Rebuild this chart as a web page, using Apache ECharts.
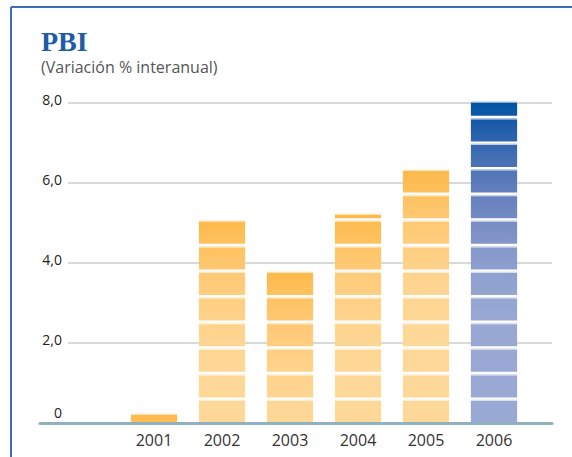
<!DOCTYPE html>
<html>
<head>
<meta charset="utf-8">
<script src="https://cdn.jsdelivr.net/npm/echarts@6/dist/echarts.min.js"></script>
<style>
  html, body { margin: 0; padding: 0; background: #fff; }
  #chart { width: 572px; height: 457px; }
</style>
</head>
<body>
<div id="chart"></div>
<script>
// datos
var years = ['2001', '2002', '2003', '2004', '2005', '2006'];
var pbi = [0.2, 5.05, 3.8, 5.2, 6.3, 8.0];
var yMin = 0, yMax = 8, yStep = 2;

// bloques de cada barra (en unidades del eje)
var BLOCK = 0.64;
var GAP = 0.09;

// escala de color según la distancia al tope de la barra
var orangeStops = [[0, '#fdb94c'], [0.5, '#fdc05a'], [1.0, '#fec66d'], [1.6, '#fecc7b'],
                   [2.2, '#fed187'], [3.0, '#fed592'], [4.0, '#fed898'], [10, '#ffd99b']];
var blueStops = [[0, '#0054a5'], [0.4, '#1359a8'], [0.8, '#2a62ad'], [1.45, '#4870b4'],
                 [2.1, '#5f7dbc'], [2.7, '#7088c2'], [3.35, '#8094c8'], [4.0, '#8b9dcd'],
                 [4.6, '#93a4d1'], [5.5, '#98a7d3'], [10, '#9caad5']];

function hex2rgb(h) {
    return [parseInt(h.substr(1, 2), 16), parseInt(h.substr(3, 2), 16), parseInt(h.substr(5, 2), 16)];
}
function colorAt(stops, d) {
    for (var i = 1; i < stops.length; i++) {
        if (d <= stops[i][0]) {
            var a = stops[i - 1], b = stops[i];
            var t = (d - a[0]) / (b[0] - a[0]);
            var ca = hex2rgb(a[1]), cb = hex2rgb(b[1]);
            return 'rgb(' + ca.map(function (v, k) { return Math.round(v + (cb[k] - v) * t); }).join(',') + ')';
        }
    }
    return stops[stops.length - 1][1];
}

var chart = echarts.init(document.getElementById('chart'), null, {renderer: 'svg'});

var option = {
    animation: false,
    backgroundColor: '#fff',
    title: {
        text: 'PBI',
        subtext: '(Variación % interanual)',
        left: 36,
        top: 22,
        itemGap: 4,
        textStyle: {
            fontFamily: 'Liberation Serif',
            fontWeight: 'bold',
            fontSize: 28,
            color: '#1d5ca7'
        },
        subtextStyle: {
            fontFamily: 'Open Sans',
            fontSize: 16,
            color: '#555'
        }
    },
    graphic: [
        // marco azul
        {type: 'line', shape: {x1: 11, y1: 7, x2: 572, y2: 7}, style: {stroke: '#3a70b3', lineWidth: 2}},
        {type: 'line', shape: {x1: 11, y1: 7, x2: 11, y2: 457}, style: {stroke: '#3a70b3', lineWidth: 2}}
    ],
    grid: [
        {left: 68, right: 20, top: 103, bottom: 34},
        {left: 120, right: 44, top: 103, bottom: 34},
        {left: 40, right: 20, top: 103, bottom: 34}
    ],
    xAxis: [
        {gridIndex: 0, type: 'value', show: false},
        {
            gridIndex: 1,
            type: 'category',
            data: years,
            axisLine: {show: false},
            axisTick: {show: false},
            axisLabel: {
                margin: 9,
                fontFamily: 'Open Sans',
                fontSize: 16,
                color: '#333'
            }
        },
        {
            gridIndex: 2,
            type: 'value',
            z: 10,
            axisLine: {show: true, onZero: false, lineStyle: {color: '#8fb0c1', width: 3}},
            axisTick: {show: false},
            axisLabel: {show: false},
            splitLine: {show: false}
        }
    ],
    yAxis: [
        {
            gridIndex: 0,
            type: 'value',
            min: yMin,
            max: yMax,
            interval: yStep,
            axisLine: {show: false},
            axisTick: {show: false},
            splitLine: {lineStyle: {color: '#d9d9d9', width: 2}},
            axisLabel: {
                margin: 6,
                fontFamily: 'Open Sans',
                fontSize: 14,
                color: '#222',
                formatter: function (v) {
                    if (v === 0) return '{z|0}';
                    return '{a|' + v.toFixed(1).replace('.', ',') + '}';
                },
                rich: {
                    a: {fontFamily: 'Open Sans', fontSize: 14, color: '#222', padding: [0, 0, 7, 0]},
                    z: {fontFamily: 'Open Sans', fontSize: 14, color: '#222', padding: [0, 0, 21, 0]}
                }
            }
        },
        {gridIndex: 1, type: 'value', min: yMin, max: yMax, show: false},
        {gridIndex: 2, type: 'value', min: yMin, max: yMax, show: false}
    ],
    series: [{
        type: 'custom',
        xAxisIndex: 1,
        yAxisIndex: 1,
        data: pbi.map(function (v, i) { return [i, v]; }),
        renderItem: function (params, api) {
            var idx = api.value(0);
            var val = api.value(1);
            var base = api.coord([idx, 0]);
            var bw = api.size([1, 0])[0] * 0.68;
            var stops = idx === 5 ? blueStops : orangeStops;
            var children = [];
            for (var s = 0; s < val - 0.001; s += BLOCK) {
                var e = Math.min(s + BLOCK - GAP, val);
                var yTop = api.coord([idx, e])[1];
                var yBot = api.coord([idx, s])[1];
                var cTop = colorAt(stops, val - e);
                var cBot = colorAt(stops, val - s);
                var grad = new echarts.graphic.LinearGradient(0, 0, 0, 1, [
                    {offset: 0, color: cTop}, {offset: 1, color: cBot}
                ]);
                children.push({
                    type: 'rect',
                    shape: {x: base[0] - bw / 2, y: yTop, width: bw, height: yBot - yTop},
                    style: {fill: grad}
                });
                // filo claro sobre cada bloque
                children.push({
                    type: 'rect',
                    shape: {x: base[0] - bw / 2, y: yTop - 1.5, width: bw, height: 1.5},
                    style: {fill: cTop, opacity: 0.35}
                });
            }
            return {type: 'group', children: children};
        }
    }]
};

chart.setOption(option);
</script>
</body>
</html>
